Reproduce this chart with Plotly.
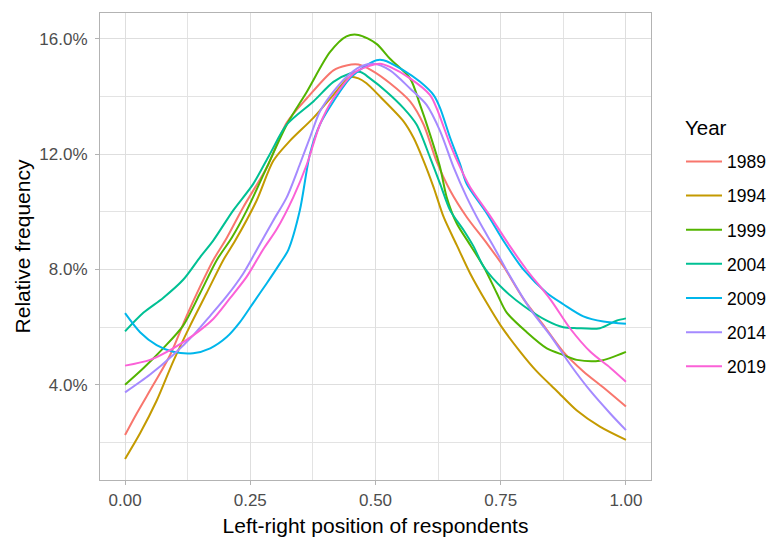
import plotly.graph_objects as go

# Relative frequency (%) of respondents along the left-right scale, by survey year
years = ["1989", "1994", "1999", "2004", "2009", "2014", "2019"]
colors = ["#F8766D", "#C49A00", "#53B400", "#00C094", "#00B6EB", "#A58AFF", "#FB61D7"]

x_1989 = [0, 0.023, 0.057, 0.09, 0.123, 0.15, 0.176, 0.2, 0.236, 0.283, 0.323, 0.363, 0.416,
          0.442, 0.466, 0.493, 0.529, 0.569, 0.596, 0.622, 0.649, 0.682, 0.722, 0.756, 0.796,
          0.836, 0.875, 0.915, 0.955, 1.0]
y_1989 = [2.25, 2.99, 4.01, 5.03, 6.39, 7.41, 8.32, 9.0, 10.16, 11.54, 13.1, 13.94, 14.91,
          15.08, 15.11, 14.9, 14.46, 13.83, 13.03, 11.75, 10.74, 9.82, 8.91, 8.09, 6.96,
          6.05, 5.14, 4.46, 3.9, 3.24]

x_1994 = [0, 0.03, 0.063, 0.096, 0.13, 0.163, 0.196, 0.22, 0.263, 0.296, 0.329, 0.376, 0.416,
          0.449, 0.466, 0.482, 0.509, 0.556, 0.576, 0.596, 0.616, 0.636, 0.662, 0.689, 0.722,
          0.75, 0.789, 0.822, 0.862, 0.902, 0.948, 1.0]
y_1994 = [1.42, 2.31, 3.44, 4.8, 6.05, 7.18, 8.32, 9.0, 10.4, 11.77, 12.46, 13.26, 14.06,
          14.68, 14.63, 14.46, 14.0, 13.14, 12.57, 11.77, 10.85, 9.82, 8.85, 7.86, 6.84,
          6.05, 5.14, 4.46, 3.78, 3.1, 2.54, 2.08]

x_1999 = [0, 0.037, 0.076, 0.116, 0.15, 0.183, 0.213, 0.243, 0.283, 0.323, 0.363, 0.409, 0.442,
          0.466, 0.502, 0.529, 0.569, 0.589, 0.609, 0.629, 0.642, 0.662, 0.689, 0.716, 0.742,
          0.762, 0.802, 0.842, 0.875, 0.902, 0.948, 1.0]
y_1999 = [4.0, 4.58, 5.26, 6.05, 7.18, 8.32, 9.1, 10.05, 11.54, 13.03, 14.17, 15.54, 16.09,
          16.14, 15.83, 15.31, 14.63, 13.71, 12.68, 11.54, 10.51, 9.6, 8.85, 8.09, 7.18,
          6.5, 5.82, 5.26, 5.03, 4.86, 4.83, 5.14]

x_2004 = [0, 0.037, 0.076, 0.116, 0.15, 0.176, 0.216, 0.256, 0.289, 0.323, 0.376, 0.416, 0.449,
          0.47, 0.489, 0.522, 0.556, 0.582, 0.609, 0.629, 0.649, 0.676, 0.696, 0.716, 0.756,
          0.796, 0.842, 0.875, 0.902, 0.948, 0.981, 1.0]
y_2004 = [5.85, 6.5, 7.01, 7.64, 8.43, 9.0, 10.05, 10.97, 12.0, 13.03, 13.83, 14.51, 14.8,
          14.85, 14.63, 14.17, 13.6, 13.03, 11.88, 10.97, 10.05, 9.36, 8.79, 8.09, 7.3,
          6.73, 6.22, 5.99, 5.96, 5.96, 6.22, 6.3]

x_2009 = [0, 0.03, 0.063, 0.096, 0.136, 0.17, 0.203, 0.229, 0.256, 0.283, 0.309, 0.326, 0.349,
          0.369, 0.389, 0.416, 0.449, 0.482, 0.502, 0.516, 0.556, 0.589, 0.616, 0.629, 0.649,
          0.669, 0.682, 0.722, 0.757, 0.796, 0.842, 0.875, 0.915, 0.955, 1.0]
y_2009 = [6.48, 5.82, 5.37, 5.14, 5.09, 5.26, 5.65, 6.16, 6.84, 7.52, 8.2, 8.68, 10.05,
          12.0, 13.03, 13.83, 14.63, 15.08, 15.26, 15.26, 14.91, 14.51, 14.05, 13.6, 12.57,
          11.65, 10.97, 9.95, 8.95, 7.98, 7.18, 6.79, 6.37, 6.19, 6.11]

x_2014 = [0, 0.05, 0.096, 0.136, 0.17, 0.203, 0.236, 0.262, 0.296, 0.323, 0.349, 0.369, 0.389,
          0.416, 0.442, 0.469, 0.496, 0.529, 0.569, 0.602, 0.629, 0.656, 0.682, 0.709, 0.736,
          0.769, 0.809, 0.849, 0.889, 0.929, 0.969, 1.0]
y_2014 = [3.73, 4.35, 5.03, 5.71, 6.39, 7.07, 7.86, 8.65, 9.7, 10.51, 11.65, 12.57, 13.48,
          14.17, 14.68, 15.03, 15.14, 14.91, 14.28, 13.71, 12.8, 11.54, 10.51, 9.6, 8.79,
          7.75, 6.62, 5.71, 4.69, 3.78, 2.99, 2.42]

x_2019 = [0, 0.05, 0.096, 0.136, 0.176, 0.21, 0.243, 0.276, 0.303, 0.336, 0.363, 0.389, 0.416,
          0.456, 0.482, 0.509, 0.529, 0.569, 0.609, 0.622, 0.649, 0.669, 0.689, 0.729, 0.769,
          0.802, 0.849, 0.889, 0.929, 0.969, 1.0]
y_2019 = [4.66, 4.86, 5.26, 5.71, 6.28, 7.01, 7.75, 8.7, 9.4, 10.51, 11.65, 13.03, 13.94,
          14.8, 15.03, 15.14, 15.03, 14.63, 14.05, 13.6, 12.34, 11.54, 10.85, 9.85, 8.79,
          7.98, 6.96, 5.94, 5.14, 4.58, 4.1]

series_x = [x_1989, x_1994, x_1999, x_2004, x_2009, x_2014, x_2019]
series_y = [y_1989, y_1994, y_1999, y_2004, y_2009, y_2014, y_2019]

x_ticks = [0, 0.25, 0.5, 0.75, 1.0]
x_tick_labels = ["0.00", "0.25", "0.50", "0.75", "1.00"]
y_ticks = [4, 8, 12, 16]
y_tick_labels = ["4.0%", "8.0%", "12.0%", "16.0%"]

FONT = "Liberation Sans, Arial, sans-serif"

fig = go.Figure()
for name, col, xs, ys in zip(years, colors, series_x, series_y):
    fig.add_trace(go.Scatter(
        x=xs, y=ys, name=name, mode="lines", legendgroup=name,
        line=dict(color=col, width=2, shape="spline", smoothing=0.8),
    ))

axis_common = dict(
    showline=True, mirror=True, linecolor="#B3B3B3", linewidth=1.2,
    showgrid=True, gridcolor="#DEDEDE", gridwidth=1.2,
    ticks="outside", ticklen=4, tickwidth=1.2, tickcolor="#B3B3B3",
    tickfont=dict(family=FONT, size=17, color="#4D4D4D"),
    zeroline=False,
)

fig.update_layout(
    width=771, height=545,
    margin=dict(l=100, r=120, t=12, b=62),
    paper_bgcolor="white", plot_bgcolor="white",
    font=dict(family=FONT, color="black"),
    xaxis=dict(
        range=[-0.05, 1.05], tickmode="array", tickvals=x_ticks, ticktext=x_tick_labels,
        minor=dict(dtick=0.125, tick0=0, showgrid=True, gridcolor="#E3E3E3", gridwidth=0.9, ticks=""),
        title=dict(text="Left-right position of respondents", font=dict(size=21, family=FONT), standoff=9),
        **axis_common,
    ),
    yaxis=dict(
        range=[0.69, 16.9], tickmode="array", tickvals=y_ticks, ticktext=y_tick_labels,
        ticklabelstandoff=4,
        minor=dict(dtick=2, tick0=0, showgrid=True, gridcolor="#E3E3E3", gridwidth=0.9, ticks=""),
        title=dict(text="Relative frequency", font=dict(size=21, family=FONT), standoff=2),
        **axis_common,
    ),
    legend=dict(
        font=dict(size=17.5, family=FONT, color="black"),
        xref="container", yref="container",
        x=681 / 771, xanchor="left", y=1 - 143.5 / 545, yanchor="top",
        tracegroupgap=8.4, itemwidth=36, bgcolor="rgba(0,0,0,0)",
    ),
    annotations=[dict(
        text="Year", xref="paper", yref="paper",
        x=(683 - 100) / 551, y=(483 - 127) / 471, xanchor="left", yanchor="middle",
        showarrow=False, font=dict(size=20.5, family=FONT, color="black"),
    )],
    showlegend=True,
)

fig.write_html("out.html")
